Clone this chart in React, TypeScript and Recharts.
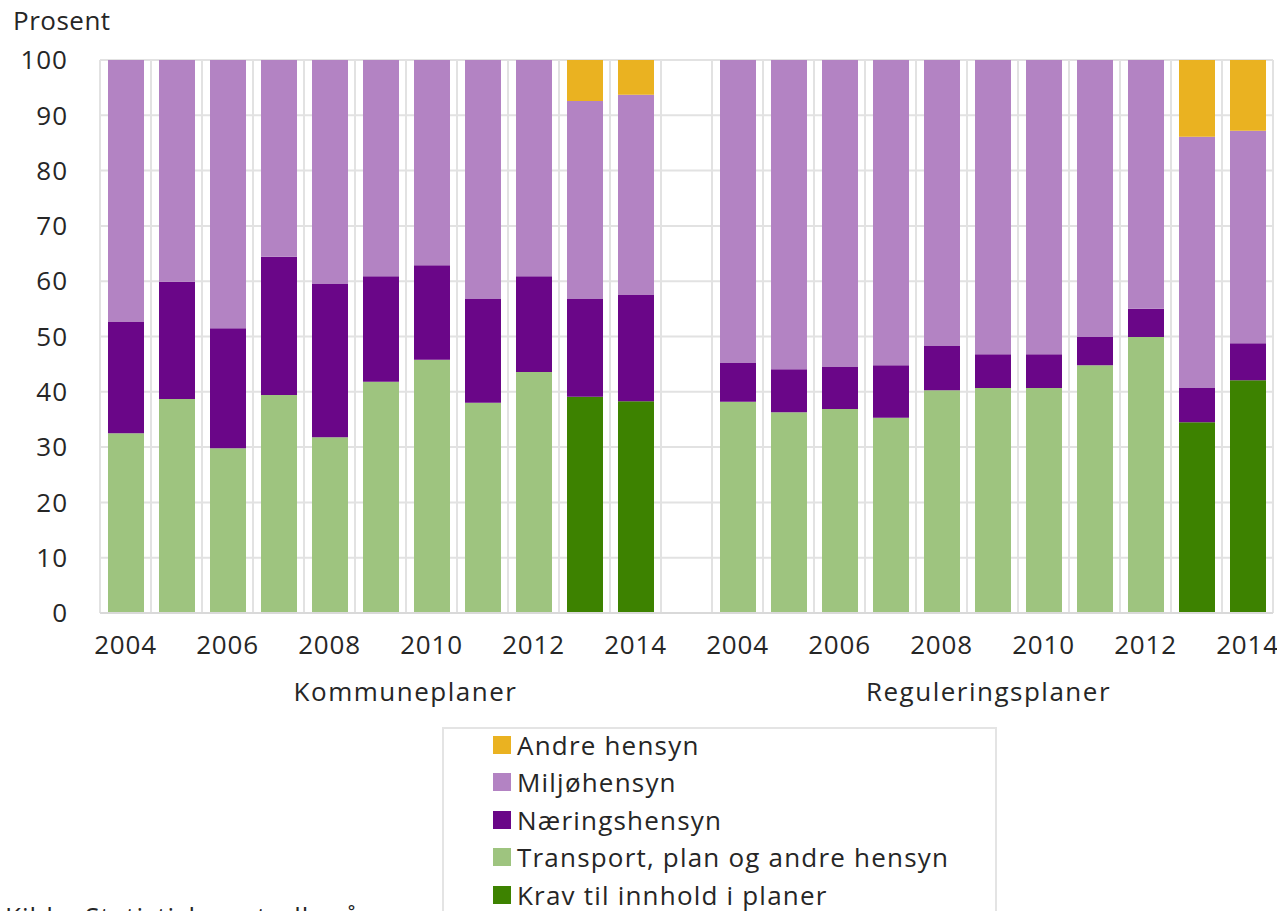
import React from 'react';
import { BarChart, Bar, XAxis, YAxis, CartesianGrid, Legend } from 'recharts';

const categories = [
  'K2004', 'K2005', 'K2006', 'K2007', 'K2008', 'K2009', 'K2010', 'K2011', 'K2012', 'K2013', 'K2014',
  'GAP',
  'R2004', 'R2005', 'R2006', 'R2007', 'R2008', 'R2009', 'R2010', 'R2011', 'R2012', 'R2013', 'R2014',
];
const yearLabels = [
  '2004', '', '2006', '', '2008', '', '2010', '', '2012', '', '2014',
  '',
  '2004', '', '2006', '', '2008', '', '2010', '', '2012', '', '2014',
];
const groupNames = ['Kommuneplaner', 'Reguleringsplaner'];
const groupAnchors = ['K2009', 'R2009'];
const groupShift = [25, -4];

const krav = [null, null, null, null, null, null, null, null, null, 39.1, 38.3, null,
  null, null, null, null, null, null, null, null, null, 34.5, 42.1];
const transport = [32.5, 38.7, 29.8, 39.4, 31.8, 41.8, 45.8, 38.0, 43.6, null, null, null,
  38.2, 36.3, 36.9, 35.3, 40.3, 40.7, 40.7, 44.8, 49.9, null, null];
const naering = [20.1, 21.2, 21.7, 25.0, 27.7, 19.1, 17.1, 18.8, 17.3, 17.7, 19.2, null,
  7.0, 7.8, 7.6, 9.5, 8.0, 6.1, 6.1, 5.1, 5.1, 6.2, 6.7];
const miljo = [47.4, 40.1, 48.5, 35.6, 40.5, 39.1, 37.1, 43.2, 39.1, 35.8, 36.2, null,
  54.8, 55.9, 55.5, 55.2, 51.7, 53.2, 53.2, 50.1, 45.0, 45.4, 38.4];
const andre = [null, null, null, null, null, null, null, null, null, 7.4, 6.3, null,
  null, null, null, null, null, null, null, null, null, 13.9, 12.8];

const yTicks = [0, 10, 20, 30, 40, 50, 60, 70, 80, 90, 100];
const legendOrder = ['Andre hensyn', 'Miljøhensyn', 'Næringshensyn', 'Transport, plan og andre hensyn', 'Krav til innhold i planer'];

const data = categories.map((key, i) => ({
  key,
  krav: krav[i],
  transport: transport[i],
  naering: naering[i],
  miljo: miljo[i],
  andre: andre[i],
}));

const FONT = '"Open Sans", sans-serif';
const TEXT = '#262626';

const GroupTick = (props: any) => {
  const { x, y, payload } = props;
  const gi = groupAnchors.indexOf(payload.value);
  if (gi < 0) return null;
  return (
    <text x={x + groupShift[gi]} y={y} dy="0.71em" textAnchor="middle" fontSize={26} letterSpacing={1.5} fill={TEXT} fontFamily={FONT}>
      {groupNames[gi]}
    </text>
  );
};

const renderLegend = (props: any) => {
  const items = [...(props.payload || [])].sort(
    (a: any, b: any) => legendOrder.indexOf(a.value) - legendOrder.indexOf(b.value)
  );
  return (
    <div
      style={{
        width: 555,
        height: 220,
        border: '2px solid #e4e4e4',
        boxSizing: 'border-box',
        background: '#fff',
        paddingLeft: 49,
        fontFamily: FONT,
        fontSize: 26,
        letterSpacing: 1.2,
        color: TEXT,
      }}
    >
      <div style={{ marginTop: -3 }}>
        {items.map((it: any) => (
          <div key={it.value} style={{ display: 'flex', alignItems: 'center', height: 37.5 }}>
            <span style={{ width: 18, height: 18, background: it.color, marginRight: 6, display: 'inline-block', flex: 'none' }} />
            <span style={{ whiteSpace: 'nowrap' }}>{it.value}</span>
          </div>
        ))}
      </div>
    </div>
  );
};

export default function App() {
  return (
    <div
      style={{
        position: 'absolute',
        left: 0,
        top: 0,
        width: 1277,
        height: 911,
        overflow: 'hidden',
        background: '#fff',
        fontFamily: FONT,
      }}
    >
      <BarChart
        width={1277}
        height={930}
        data={data}
        margin={{ top: 60, right: 4, left: 0, bottom: 212 }}
      >
        <CartesianGrid
          stroke="#e2e2e2"
          strokeWidth={2}
          verticalCoordinatesGenerator={({ offset }: any) =>
            categories.concat(['end']).map((_, i) => offset.left + (i * offset.width) / categories.length)
          }
        />
        <XAxis
          dataKey="key"
          interval={0}
          height={45}
          tickLine={false}
          tickSize={6}
          tickMargin={17}
          axisLine={{ stroke: '#d9d9d9', strokeWidth: 2 }}
          tickFormatter={(v: string) => yearLabels[categories.indexOf(v)]}
          tick={{ fontSize: 26, fill: TEXT, fontFamily: FONT, letterSpacing: 0.8 }}
        />
        <XAxis
          xAxisId="grp"
          dataKey="key"
          ticks={groupAnchors}
          interval={0}
          height={60}
          tickLine={false}
          axisLine={false}
          tickSize={6}
          tickMargin={19}
          tick={<GroupTick />}
        />
        <YAxis
          width={100}
          domain={[0, 100]}
          ticks={yTicks}
          interval={0}
          tickLine={false}
          axisLine={false}
          tickSize={6}
          tickMargin={26}
          tick={{ fontSize: 26, fill: TEXT, fontFamily: FONT, letterSpacing: 1 }}
          label={{
            content: (p: any) => (
              <text x={13} y={p.viewBox.y - 39} dy="0.35em" fontSize={26} letterSpacing={0.5} fill={TEXT} fontFamily={FONT}>
                Prosent
              </text>
            ),
          }}
        />
        <Legend
          layout="vertical"
          align="center"
          verticalAlign="middle"
          wrapperStyle={{ left: 442, top: 727, width: 555 }}
          content={renderLegend}
        />
        <Bar dataKey="krav" name="Krav til innhold i planer" stackId="a" fill="#3d8200" barSize={36} isAnimationActive={false} />
        <Bar dataKey="transport" name="Transport, plan og andre hensyn" stackId="a" fill="#9ec47f" barSize={36} isAnimationActive={false} />
        <Bar dataKey="naering" name="Næringshensyn" stackId="a" fill="#6a0688" barSize={36} isAnimationActive={false} />
        <Bar dataKey="miljo" name="Miljøhensyn" stackId="a" fill="#b383c3" barSize={36} isAnimationActive={false} />
        <Bar dataKey="andre" name="Andre hensyn" stackId="a" fill="#eab221" barSize={36} isAnimationActive={false} />
      </BarChart>
      <div
        style={{
          position: 'absolute',
          left: 5,
          top: 898,
          fontSize: 26,
          letterSpacing: 1,
          color: TEXT,
          fontFamily: FONT,
          whiteSpace: 'nowrap',
        }}
      >
        Kilde: Statistisk sentralbyrå
      </div>
    </div>
  );
}
